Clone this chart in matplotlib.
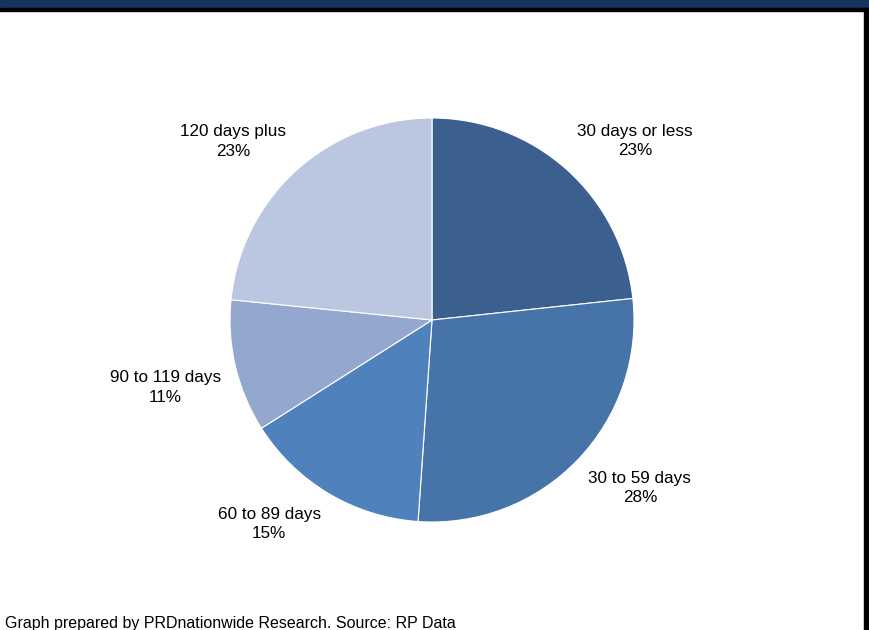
import matplotlib.pyplot as plt
from matplotlib.patches import Rectangle

plt.rcParams['font.family'] = ['Liberation Sans', 'DejaVu Sans']

# Days on market share
categories = ["30 days or less", "30 to 59 days", "60 to 89 days", "90 to 119 days", "120 days plus"]
shares = [23.3, 27.8, 14.9, 10.6, 23.4]
colors = ["#3B5F8E", "#4674A8", "#4F81BD", "#94A8CF", "#BBC7E0"]

fig = plt.figure(figsize=(8.7, 6.3), dpi=100)

# header band and right border
fig.patches.append(Rectangle((0, 1 - 8 / 630), 1, 8 / 630, transform=fig.transFigure,
                             color="#16355C", zorder=0))
fig.patches.append(Rectangle((0, 1 - 11 / 630), 1, 3 / 630, transform=fig.transFigure,
                             color="black", zorder=0))
fig.patches.append(Rectangle((864 / 870, 0), 6 / 870, 1 - 8 / 630, transform=fig.transFigure,
                             color="black", zorder=0))

ax = fig.add_axes([129 / 870, 7 / 630, 606 / 870, 606 / 630])
labels = [f"{c}\n{round(s):.0f}%" for c, s in zip(categories, shares)]
wedges, texts = ax.pie(shares, labels=labels, colors=colors, startangle=90, counterclock=False,
                       labeldistance=1.075,
                       wedgeprops=dict(edgecolor="white", linewidth=0.8),
                       textprops=dict(fontsize=12.3, multialignment="center", linespacing=1.4))
for t in texts:
    x, y = t.get_position()
    t.set_va("bottom" if y > 0 else "top")
ax.set_xlim(-1.5, 1.5)
ax.set_ylim(-1.5, 1.5)
ax.set_aspect("equal")
ax.axis("off")

fig.text(5 / 870, 1 - 616 / 630, "Graph prepared by PRDnationwide Research. Source: RP Data",
         fontsize=11.5, ha="left", va="top")

fig.savefig("out.png", dpi=100)
